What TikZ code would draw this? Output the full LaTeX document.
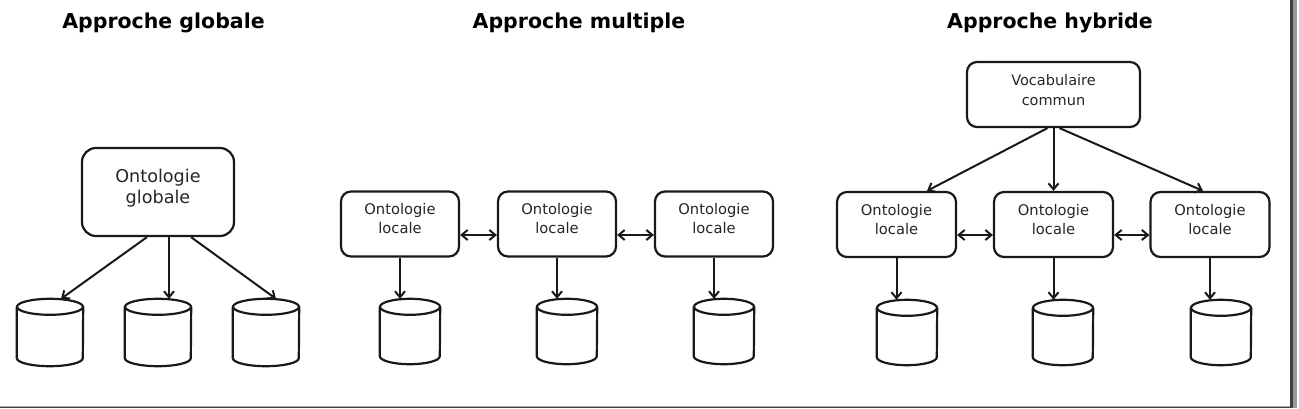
\documentclass[tikz,border=0pt]{standalone}
\usepackage{fontspec}
\setmainfont{DejaVu Sans}
\usetikzlibrary{arrows.meta,calc}
\newcommand\mycyl[2]{%
  \draw[cylline] ($(#1.north west)+(0,-8)$) -- ($(#1.south west)+(0,8)$)
     arc[start angle=180,end angle=360,x radius=#2pt,y radius=8pt]
     -- ($(#1.north east)+(0,-8)$);
  \draw[cylline] ($(#1.north)+(0,-8)$) ellipse[x radius=#2pt,y radius=8pt];}
\newcommand\twolines[3]{\parbox[b]{#1}{\centering #2\\#3}}
\begin{document}
\begin{tikzpicture}[x=1pt,y=1pt,
  cylline/.style={line width=2.2pt, draw=black!90},
  arr/.style={line width=2pt, draw=black!90, -{Straight Barb[length=6pt,width=10pt]}},
  darr/.style={line width=2pt, draw=black!90, {Straight Barb[length=6pt,width=10pt]}-{Straight Barb[length=6pt,width=10pt]}},
  title/.style={font=\fontsize{20.5}{24}\selectfont\bfseries, anchor=base, text=black, inner sep=0pt},
  box/.style={draw=black!90, line width=2.2pt, rounded corners=10pt, inner sep=0pt, text=black!85, align=center},
  sbox/.style={box, minimum width=118pt, minimum height=65pt, font=\fontsize{14.7}{19}\selectfont, text depth=10.5pt},
  cylbox/.style={inner sep=0pt, rectangle}
]
\useasboundingbox (0,0) rectangle (1299,408);
\fill[white] (0,0) rectangle (1299,408);

% frame
\fill[black!30] (0,1.3) rectangle (1292,2.5);
\fill[black!75] (0,0) rectangle (1292,1.3);
\fill[black!40] (1292.7,0) rectangle (1296.7,408);
\fill[black!75] (1290,0) rectangle (1292.7,408);

% titles
\node[title] (t1) at (163.5,379) {Approche globale};
\node[title] (t2) at (579,379) {Approche multiple};
\node[title] (t3) at (1050,379) {Approche hybride};

% ---- global
\node[box, minimum width=152pt, minimum height=88pt, rounded corners=14pt,
      font=\fontsize{17.6}{20.6}\selectfont, text depth=11pt] (G) at (158,216)
      {\twolines{130pt}{Ontologie}{globale}};
\node[cylbox, minimum width=66pt, minimum height=67pt] (g1) at (50,75.5) {};
\node[cylbox, minimum width=66pt, minimum height=67pt] (g2) at (158,75.5) {};
\node[cylbox, minimum width=66pt, minimum height=67pt] (g3) at (266,75.5) {};
\mycyl{g1}{33}\mycyl{g2}{33}\mycyl{g3}{33}
\draw[arr] ($(G.south)+(-11,0)$) -- ($(g1.north)+(11,0)$);
\draw[arr] ($(G.south)+(11,0)$) -- ($(g2.north)+(11,0)$);
\draw[arr] ($(G.south)+(33,0)$) -- ($(g3.north)+(10,0)$);

% ---- multiple
\node[sbox] (m1) at (400,184) {\twolines{100pt}{Ontologie}{locale}};
\node[sbox] (m2) at (557,184) {\twolines{100pt}{Ontologie}{locale}};
\node[sbox] (m3) at (714,184) {\twolines{100pt}{Ontologie}{locale}};
\node[cylbox, minimum width=60pt, minimum height=65pt] (mc1) at (410,76.5) {};
\node[cylbox, minimum width=60pt, minimum height=65pt] (mc2) at (567,76.5) {};
\node[cylbox, minimum width=60pt, minimum height=65pt] (mc3) at (724,76.5) {};
\mycyl{mc1}{30}\mycyl{mc2}{30}\mycyl{mc3}{30}
\draw[arr] (m1.south) -- (m1.south |- mc1.north);
\draw[arr] (m2.south) -- (m2.south |- mc2.north);
\draw[arr] (m3.south) -- (m3.south |- mc3.north);
\draw[darr] ($(m1.east)+(0,-11)$) -- ($(m2.west)+(0,-11)$);
\draw[darr] ($(m2.east)+(0,-11)$) -- ($(m3.west)+(0,-11)$);

% ---- hybrid
\node[box, minimum width=173pt, minimum height=65pt, font=\fontsize{14.5}{20}\selectfont,
      text depth=10pt] (V) at (1053.5,313.5) {\twolines{130pt}{Vocabulaire}{commun}};
\node[sbox, minimum width=119pt] (h1) at (896.5,183.5) {\twolines{100pt}{Ontologie}{locale}};
\node[sbox, minimum width=119pt] (h2) at (1053.5,183.5) {\twolines{100pt}{Ontologie}{locale}};
\node[sbox, minimum width=119pt] (h3) at (1210,183.5) {\twolines{100pt}{Ontologie}{locale}};
\node[cylbox, minimum width=60pt, minimum height=65pt] (hc1) at (907,75.5) {};
\node[cylbox, minimum width=60pt, minimum height=65pt] (hc2) at (1063,75.5) {};
\node[cylbox, minimum width=60pt, minimum height=65pt] (hc3) at (1221,75.5) {};
\mycyl{hc1}{30}\mycyl{hc2}{30}\mycyl{hc3}{30}
\draw[arr] ($(V.south)+(-6,0)$) -- ($(h1.north)+(30.5,0)$);
\draw[arr] (V.south) -- (h2.north);
\draw[arr] ($(V.south)+(6,0)$) -- ($(h3.north)+(-7,0)$);
\draw[darr] ($(h1.east)+(0,-10.5)$) -- ($(h2.west)+(0,-10.5)$);
\draw[darr] ($(h2.east)+(0,-10.5)$) -- ($(h3.west)+(0,-10.5)$);
\draw[arr] (h1.south) -- (h1.south |- hc1.north);
\draw[arr] (h2.south) -- (h2.south |- hc2.north);
\draw[arr] (h3.south) -- (h3.south |- hc3.north);
\end{tikzpicture}
\end{document}
